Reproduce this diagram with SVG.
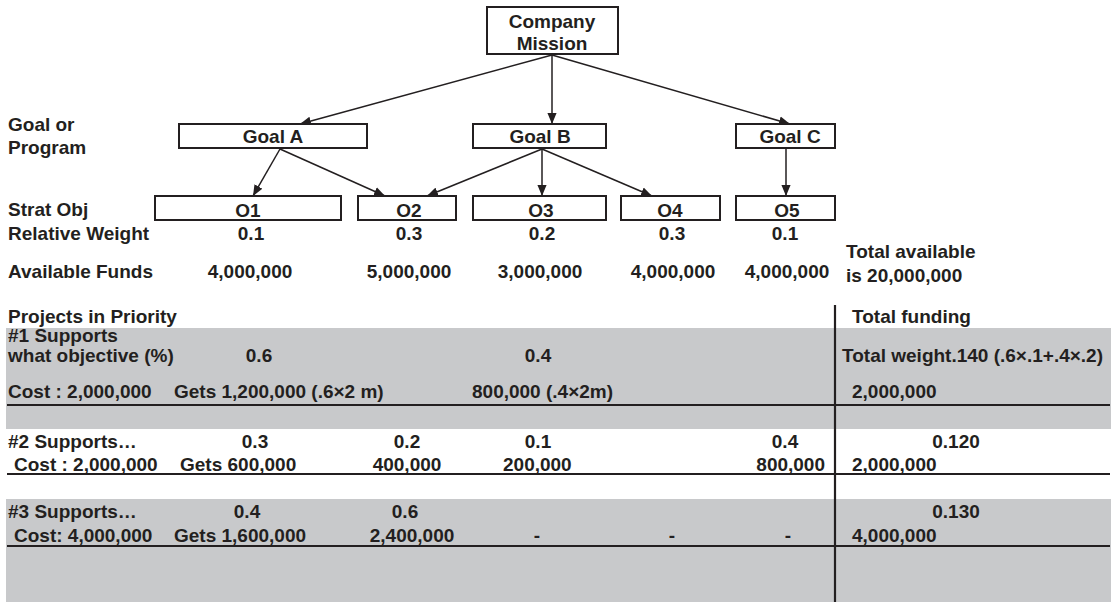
<svg xmlns="http://www.w3.org/2000/svg" width="1118" height="602" viewBox="0 0 1118 602">
<style>
text{font-family:"Liberation Sans",Arial,sans-serif;font-weight:bold;font-size:19px;fill:#231f20}
.c{text-anchor:middle}
.e{text-anchor:end}
.box{fill:#fff;stroke:#231f20;stroke-width:2}
.conn{stroke:#231f20;stroke-width:1.5;fill:none;marker-end:url(#ah)}
.rule{stroke:#231f20;stroke-width:2.2}
.band{fill:#c8c9cb}
</style>
<defs>
<marker id="ah" viewBox="0 0 12 10" refX="12" refY="5" markerWidth="11" markerHeight="10" markerUnits="userSpaceOnUse" orient="auto">
<path d="M0,0 L12,5 L0,10 z" fill="#231f20"/>
</marker>
</defs>
<rect width="1118" height="602" fill="#fff"/>

<!-- table background bands -->
<rect class="band" x="6" y="328" width="1105" height="101"/>
<rect class="band" x="6" y="499" width="1105" height="103"/>

<!-- connectors -->
<g id="connectors">
<line class="conn" x1="552" y1="55" x2="300" y2="124"/>
<line class="conn" x1="552" y1="55" x2="552" y2="124"/>
<line class="conn" x1="552" y1="55" x2="790" y2="124"/>
<line class="conn" x1="280" y1="149" x2="253" y2="196"/>
<line class="conn" x1="280" y1="149" x2="385" y2="196"/>
<line class="conn" x1="542" y1="149" x2="427" y2="196"/>
<line class="conn" x1="542" y1="149" x2="542" y2="196"/>
<line class="conn" x1="542" y1="149" x2="652" y2="196"/>
<line class="conn" x1="786" y1="149" x2="786" y2="196"/>
</g>

<!-- nodes -->
<g id="mission">
<rect class="box" x="487" y="7" width="131" height="47"/>
<text class="c" x="552" y="28">Company</text>
<text class="c" x="552" y="50">Mission</text>
</g>
<g id="goalA">
<rect class="box" x="179" y="124" width="188" height="24"/>
<text class="c" x="273" y="143">Goal A</text>
</g>
<g id="goalB">
<rect class="box" x="473" y="124" width="133" height="24"/>
<text class="c" x="540" y="143">Goal B</text>
</g>
<g id="goalC">
<rect class="box" x="736" y="124" width="99" height="24"/>
<text class="c" x="790" y="143">Goal C</text>
</g>
<g id="o1">
<rect class="box" x="155" y="196" width="186" height="24"/>
<text class="c" x="248" y="217">O1</text>
</g>
<g id="o2">
<rect class="box" x="358" y="196" width="98" height="24"/>
<text class="c" x="409" y="217">O2</text>
</g>
<g id="o3">
<rect class="box" x="473" y="196" width="133" height="24"/>
<text class="c" x="541" y="217">O3</text>
</g>
<g id="o4">
<rect class="box" x="621" y="196" width="99" height="24"/>
<text class="c" x="670" y="217">O4</text>
</g>
<g id="o5">
<rect class="box" x="736" y="196" width="99" height="24"/>
<text class="c" x="787" y="217">O5</text>
</g>

<!-- row labels -->
<g id="labels">
<text x="8" y="131">Goal or</text>
<text x="8" y="154">Program</text>
<text x="8" y="216">Strat Obj</text>
<text x="8" y="240">Relative Weight</text>
<text x="8" y="278">Available Funds</text>
<text x="8" y="323">Projects in Priority</text>
</g>

<!-- weights and funds -->
<g id="weights">
<text class="c" x="251" y="240">0.1</text>
<text class="c" x="409" y="240">0.3</text>
<text class="c" x="542" y="240">0.2</text>
<text class="c" x="672" y="240">0.3</text>
<text class="c" x="785" y="240">0.1</text>
<text class="c" x="250" y="278">4,000,000</text>
<text class="c" x="409" y="278">5,000,000</text>
<text class="c" x="540" y="278">3,000,000</text>
<text class="c" x="673" y="278">4,000,000</text>
<text class="c" x="787" y="278">4,000,000</text>
<text x="846" y="258">Total available</text>
<text x="846" y="282">is 20,000,000</text>
</g>

<!-- table -->
<g id="table">
<line class="rule" x1="7" y1="405" x2="1110" y2="405"/>
<line class="rule" x1="7" y1="474" x2="1110" y2="474"/>
<line class="rule" x1="7" y1="546" x2="1110" y2="546"/>
<line class="rule" x1="835" y1="305" x2="835" y2="602"/>

<text x="852" y="323">Total funding</text>

<text x="8" y="342">#1 Supports</text>
<text x="8" y="362">what objective (%)</text>
<text class="c" x="259" y="362">0.6</text>
<text class="c" x="538" y="362">0.4</text>
<text x="842" y="362">Total weight.140 (.6×.1+.4×.2)</text>
<text x="8" y="398">Cost : 2,000,000</text>
<text x="174" y="398">Gets 1,200,000 (.6×2 m)</text>
<text x="472" y="398">800,000 (.4×2m)</text>
<text x="852" y="398">2,000,000</text>

<text x="8" y="448">#2 Supports…</text>
<text class="c" x="255" y="448">0.3</text>
<text class="c" x="407" y="448">0.2</text>
<text class="c" x="538" y="448">0.1</text>
<text class="c" x="785" y="448">0.4</text>
<text class="c" x="956" y="448">0.120</text>
<text x="14" y="471">Cost : 2,000,000</text>
<text x="180" y="471">Gets 600,000</text>
<text class="c" x="407" y="471">400,000</text>
<text x="503" y="471">200,000</text>
<text class="e" x="825" y="471">800,000</text>
<text x="852" y="471">2,000,000</text>

<text x="8" y="518">#3 Supports…</text>
<text class="c" x="247" y="518">0.4</text>
<text class="c" x="405" y="518">0.6</text>
<text class="c" x="956" y="518">0.130</text>
<text x="14" y="542">Cost: 4,000,000</text>
<text x="174" y="542">Gets 1,600,000</text>
<text class="c" x="412" y="542">2,400,000</text>
<text class="c" x="537" y="542">-</text>
<text class="c" x="672" y="542">-</text>
<text class="c" x="788" y="542">-</text>
<text x="852" y="542">4,000,000</text>
</g>
</svg>
